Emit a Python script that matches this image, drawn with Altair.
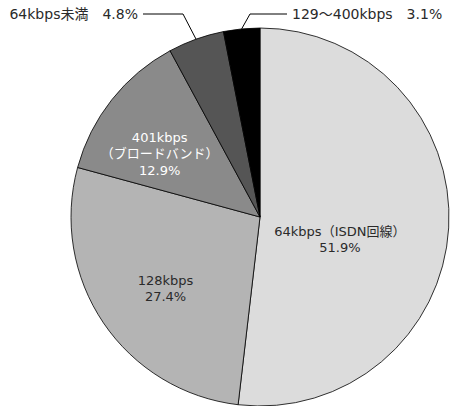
import math
import altair as alt
import pandas as pd

# ---- data ----
categories = ["64kbps（ISDN回線）", "128kbps", "401kbps（ブロードバンド）", "64kbps未満", "129～400kbps"]
short_lines = ["64kbps（ISDN回線）", "128kbps", "401kbps\n（ブロードバンド）", "64kbps未満", "129～400kbps"]
values = [51.9, 27.4, 12.9, 4.8, 3.1]
colors = ["#dcdcdc", "#b4b4b4", "#8a8a8a", "#555555", "#000000"]

W, H = 450, 406
CX, CY, R = 260, 217, 189
FONT = "DejaVu Sans, Noto Sans CJK JP"

df = pd.DataFrame({
    "cat": categories,
    "lab": [f"{s}\n{v}%" for s, v in zip(short_lines, values)],
    "value": values,
    "idx": list(range(len(values))),
})

base = alt.Chart(df).encode(
    theta=alt.Theta("value:Q", stack=True),
    order=alt.Order("idx:Q", sort="ascending"),
)

pie = base.mark_arc(radius=R, stroke="#000000", strokeWidth=0.8).encode(
    color=alt.Color("cat:N", scale=alt.Scale(domain=categories, range=colors), legend=None),
    x=alt.value(CX), y=alt.value(CY),
)

def inner(cat, r, col, dy=0):
    return base.mark_text(
        radius=r, font=FONT, fontSize=13, lineBreak="\n",
        lineHeight=16.5, align="center", baseline="middle", color=col, dy=dy,
    ).encode(
        text=alt.condition(alt.datum.cat == cat, "lab:N", alt.value("")),
        x=alt.value(CX), y=alt.value(CY),
    )

t1 = inner(categories[0], 80, "#2a2a2a", dy=10)
t2 = inner(categories[1], 114, "#2a2a2a")
t3 = inner(categories[2], 128, "#ffffff")

# ---- leader lines for the two small slices, anchored at mid-angle on the rim ----
total = sum(values)
cum = 0
mids = []
for v in values:
    mids.append((cum + v / 2) / total * 2 * math.pi)
    cum += v

rows = []
leader = {3: (183, 14, 143), 4: (250, 14, 287)}  # elbow x, y, end x
for i, (ex, ey, endx) in leader.items():
    a = mids[i]
    px, py = CX + R * math.sin(a), CY - R * math.cos(a)
    for k, (x, y) in enumerate([(px, py), (ex, ey), (endx, ey)]):
        rows.append({"g": i, "k": k, "x": x, "y": y})
ldf = pd.DataFrame(rows)

xs = alt.Scale(domain=[0, W], nice=False, zero=False)
ys = alt.Scale(domain=[0, H], nice=False, zero=False, reverse=True)

lines = alt.Chart(ldf).mark_line(color="#000000", strokeWidth=1).encode(
    x=alt.X("x:Q", scale=xs, axis=None),
    y=alt.Y("y:Q", scale=ys, axis=None),
    detail="g:N",
    order="k:Q",
)

odf = pd.DataFrame({
    "t": [f"{categories[3]}　{values[3]}%", f"{categories[4]}　{values[4]}%"],
    "x": [138, 292],
    "y": [15, 15],
})
outer_l = alt.Chart(odf.iloc[[0]]).mark_text(
    font=FONT, fontSize=14, align="right", baseline="middle", color="#2a2a2a"
).encode(x=alt.X("x:Q", scale=xs, axis=None), y=alt.Y("y:Q", scale=ys, axis=None), text="t:N")
outer_r = alt.Chart(odf.iloc[[1]]).mark_text(
    font=FONT, fontSize=14, align="left", baseline="middle", color="#2a2a2a"
).encode(x=alt.X("x:Q", scale=xs, axis=None), y=alt.Y("y:Q", scale=ys, axis=None), text="t:N")

chart = alt.layer(pie, t1, t2, t3, lines, outer_l, outer_r).properties(
    width=W, height=H, padding=0, autosize=alt.AutoSizeParams(type="none")
).configure_view(stroke=None)

chart.save("out.html", embed_options={"renderer": "svg", "actions": False})
